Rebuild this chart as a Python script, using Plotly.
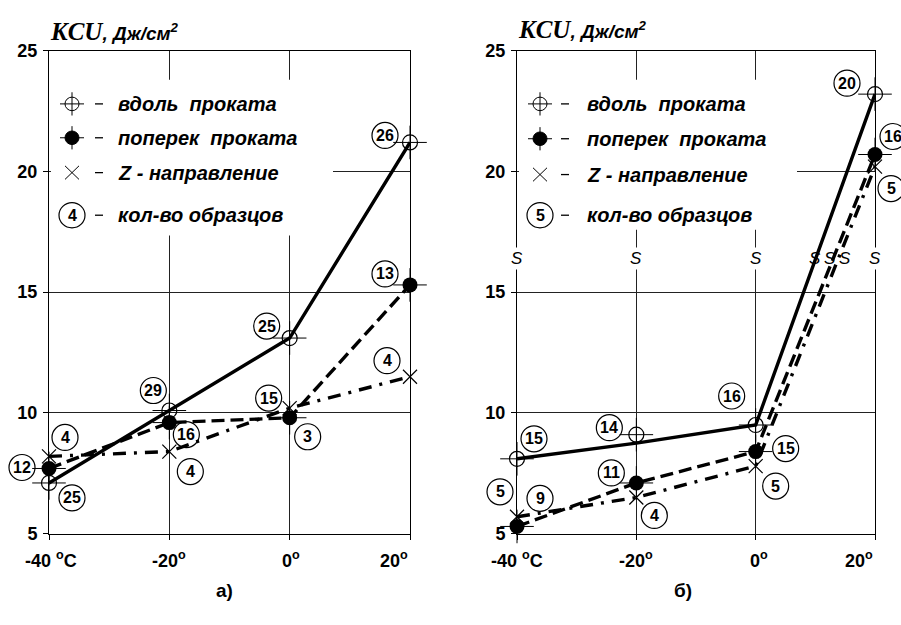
import plotly.graph_objects as go

# ---------------- data ----------------
temps = [-40, -20, 0, 20]
x_tick_text = ["-40 <sup>o</sup>C", "-20<sup>o</sup>", "0<sup>o</sup>", "20<sup>o</sup>"]
y_ticks = [5, 10, 15, 20, 25]

# panel а)
a_along = [7.1, 10.1, 13.1, 21.2]
a_across = [7.7, 9.6, 9.8, 15.3]
a_z = [8.2, 8.4, 10.2, 11.5]
a_along_n = [25, 29, 25, 26]
a_across_n = [12, 16, 3, 13]
a_z_n = [4, 4, 15, 4]

# panel б)
b_along = [8.1, 9.1, 9.5, 23.2]
b_along_trend = [8.1, 8.75, 9.5, 23.2]
b_across = [5.3, 7.1, 8.4, 20.7]
b_z = [5.7, 6.5, 7.8, 20.2]
b_along_n = [15, 14, 16, 20]
b_across_n = [9, 11, 15, 16]
b_z_n = [5, 4, 5, 5]

s_marks_x = [-40, -20, 0, 10, 12.5, 14.9, 20]
s_level = 16.4

legend_labels = ["вдоль\u00a0\u00a0проката", "поперек\u00a0\u00a0проката",
                 "Z\u00a0-\u00a0направление", "кол-во образцов"]

# ---------------- layout helpers ----------------
W, H = 901, 625
X_RANGE = [-40, 20]
Y_RANGE = [5, 25]
SANS = "Liberation Sans, Arial, sans-serif"

PLOT_TOP, PLOT_BOTTOM = 42, 541
PANEL_A = (49, 410)
PANEL_B = (517, 875)


def px(x):
    return x / W


def py(y):
    return 1 - y / H


# label offsets (pixels) for the circled sample counts
a_along_off = [(23, -15), (-16, 20), (-23, 12), (-25, 7)]
a_across_off = [(-27, 1), (17, -12), (18, -19), (-25, 11)]
a_z_off = [(16, 19), (21, -20), (-21, 10), (-23, 16)]
b_along_off = [(17, 20), (-27, 7), (-24, 29), (-28, 11)]
b_across_off = [(23, 28), (-25, 10), (30, 3), (18, 18)]
b_z_off = [(-17, 25), (18, -18), (20, -20), (16, -22)]

fig = go.Figure()
shapes = []
annotations = []

LINE_W = 3.4
DASH = "13px,6px"
DASHDOT = "13px,8px,3px,8px"
R_COUNT = 13


def add_series(xa, ya, xs, ys, line_ys, dash, kind):
    fig.add_trace(go.Scatter(x=xs, y=line_ys, mode="lines", xaxis=xa, yaxis=ya,
                             line=dict(color="black", width=LINE_W, dash=dash),
                             showlegend=False, hoverinfo="skip"))
    if kind == "along":
        fig.add_trace(go.Scatter(x=xs, y=ys, mode="markers", xaxis=xa, yaxis=ya,
                                 marker=dict(symbol="circle-open", size=15, color="black",
                                             line=dict(width=1.2, color="black")),
                                 showlegend=False, cliponaxis=False))
        fig.add_trace(go.Scatter(x=xs, y=ys, mode="markers", xaxis=xa, yaxis=ya,
                                 marker=dict(symbol="cross-thin-open", size=24, color="black",
                                             line=dict(width=1, color="black")),
                                 showlegend=False, cliponaxis=False))
    elif kind == "across":
        fig.add_trace(go.Scatter(x=xs, y=ys, mode="markers", xaxis=xa, yaxis=ya,
                                 marker=dict(symbol="circle", size=15, color="black"),
                                 showlegend=False, cliponaxis=False))
        fig.add_trace(go.Scatter(x=xs, y=ys, mode="markers", xaxis=xa, yaxis=ya,
                                 marker=dict(symbol="cross-thin-open", size=24, color="black",
                                             line=dict(width=1, color="black")),
                                 showlegend=False, cliponaxis=False))
    else:
        fig.add_trace(go.Scatter(x=xs, y=ys, mode="markers", xaxis=xa, yaxis=ya,
                                 marker=dict(symbol="x-thin-open", size=14, color="black",
                                             line=dict(width=1.2, color="black")),
                                 showlegend=False, cliponaxis=False))


def add_counts(xref, yref, xs, ys, counts, offsets):
    for x, y, n, (dx, dy) in zip(xs, ys, counts, offsets):
        fx = (x - X_RANGE[0]) / (X_RANGE[1] - X_RANGE[0])
        fy = (y - Y_RANGE[0]) / (Y_RANGE[1] - Y_RANGE[0])
        shapes.append(dict(type="circle", xref=xref + " domain", yref=yref + " domain",
                           xsizemode="pixel", ysizemode="pixel", xanchor=fx, yanchor=fy,
                           x0=dx - R_COUNT, x1=dx + R_COUNT, y0=dy - R_COUNT, y1=dy + R_COUNT,
                           line=dict(color="black", width=1.2), layer="above"))
        annotations.append(dict(x=x, y=y, xref=xref, yref=yref, xshift=dx, yshift=dy,
                                text="<b>%d</b>" % n, showarrow=False,
                                font=dict(family=SANS, size=16, color="black"),
                                xanchor="center", yanchor="middle"))


# panel а)
add_series("x", "y", temps, a_along, a_along, "solid", "along")
add_series("x", "y", temps, a_across, a_across, DASH, "across")
add_series("x", "y", temps, a_z, a_z, DASHDOT, "z")
add_counts("x", "y", temps, a_along, a_along_n, a_along_off)
add_counts("x", "y", temps, a_across, a_across_n, a_across_off)
add_counts("x", "y", temps, a_z, a_z_n, a_z_off)

# panel б)
add_series("x2", "y2", temps, b_along, b_along_trend, "solid", "along")
add_series("x2", "y2", temps, b_across, b_across, DASH, "across")
add_series("x2", "y2", temps, b_z, b_z, DASHDOT, "z")
add_counts("x2", "y2", temps, b_along, b_along_n, b_along_off)
add_counts("x2", "y2", temps, b_across, b_across_n, b_across_off)
add_counts("x2", "y2", temps, b_z, b_z_n, b_z_off)

# "S" marks on panel б)
for sx in s_marks_x:
    on_grid = sx in temps
    annotations.append(dict(x=sx, y=s_level, xref="x2", yref="y2", text="<i>S</i>",
                            showarrow=False, font=dict(family=SANS, size=17, color="black"),
                            bgcolor="white" if on_grid else "rgba(0,0,0,0)",
                            borderpad=1, xanchor="center", yanchor="middle"))


# legends drawn in page coordinates, on a white panel that hides the grid
def draw_legend(axes, panel, box, mx, dash_x, tx, rows, count_label):
    xr, yr = axes
    left, right = panel
    x0, y0, x1, y1 = box

    def data_x(v):
        return X_RANGE[0] + (v - left) / (right - left) * (X_RANGE[1] - X_RANGE[0])

    def data_y(v):
        return Y_RANGE[0] + (PLOT_BOTTOM - v) / (PLOT_BOTTOM - PLOT_TOP) * (Y_RANGE[1] - Y_RANGE[0])

    shapes.append(dict(type="rect", xref=xr, yref=yr,
                       x0=data_x(x0), x1=data_x(x1), y0=data_y(y1), y1=data_y(y0),
                       fillcolor="white", line=dict(width=0), layer="between"))
    ln = dict(color="black", width=1)
    cy = rows[0]
    shapes.append(dict(type="circle", xref="paper", yref="paper", x0=px(mx - 7), x1=px(mx + 7),
                       y0=py(cy + 7), y1=py(cy - 7), line=ln))
    cy2 = rows[1]
    shapes.append(dict(type="circle", xref="paper", yref="paper", x0=px(mx - 7), x1=px(mx + 7),
                       y0=py(cy2 + 7), y1=py(cy2 - 7), line=ln, fillcolor="black"))
    for c in (cy, cy2):
        shapes.append(dict(type="line", xref="paper", yref="paper", x0=px(mx - 12), x1=px(mx + 12),
                           y0=py(c), y1=py(c), line=ln))
        shapes.append(dict(type="line", xref="paper", yref="paper", x0=px(mx), x1=px(mx),
                           y0=py(c - 12), y1=py(c + 12), line=ln))
    cy3 = rows[2]
    shapes.append(dict(type="line", xref="paper", yref="paper", x0=px(mx - 7), x1=px(mx + 7),
                       y0=py(cy3 - 7), y1=py(cy3 + 7), line=ln))
    shapes.append(dict(type="line", xref="paper", yref="paper", x0=px(mx - 7), x1=px(mx + 7),
                       y0=py(cy3 + 7), y1=py(cy3 - 7), line=ln))
    cy4 = rows[3]
    shapes.append(dict(type="circle", xref="paper", yref="paper",
                       x0=px(mx - R_COUNT), x1=px(mx + R_COUNT),
                       y0=py(cy4 + R_COUNT), y1=py(cy4 - R_COUNT),
                       line=dict(color="black", width=1.2)))
    annotations.append(dict(x=px(mx), y=py(cy4), xref="paper", yref="paper",
                            text="<b>%d</b>" % count_label, showarrow=False,
                            font=dict(family=SANS, size=16, color="black"),
                            xanchor="center", yanchor="middle"))
    for c, label in zip(rows, legend_labels):
        shapes.append(dict(type="line", xref="paper", yref="paper", x0=px(dash_x - 4),
                           x1=px(dash_x + 4), y0=py(c), y1=py(c),
                           line=dict(color="black", width=1.3)))
        annotations.append(dict(x=px(tx), y=py(c), xref="paper", yref="paper",
                                text="<b><i>%s</i></b>" % label, showarrow=False,
                                font=dict(family=SANS, size=20, color="black"),
                                xanchor="left", yanchor="middle"))


draw_legend(("x", "y"), PANEL_A, (51, 72, 333, 233), 72, 99, 116, [97, 132, 168, 212], 4)
draw_legend(("x2", "y2"), PANEL_B, (519, 72, 797, 227), 540, 565, 585, [97, 133, 170, 212], 5)

# axis titles and captions
title = ("<span style='font-family:Liberation Serif;font-size:25px'><b><i>KCU</i></b></span>"
         "<b><i>, Дж/см<sup>2</sup></i></b>")
annotations.append(dict(x=px(48), y=py(22), xref="paper", yref="paper", text=title,
                        showarrow=False, font=dict(family=SANS, size=19, color="black"),
                        xanchor="left", yanchor="middle"))
annotations.append(dict(x=px(516), y=py(20), xref="paper", yref="paper", text=title,
                        showarrow=False, font=dict(family=SANS, size=19, color="black"),
                        xanchor="left", yanchor="middle"))
annotations.append(dict(x=px(214), y=py(613), xref="paper", yref="paper", text="<b>а)</b>",
                        showarrow=False, font=dict(family=SANS, size=19, color="black")))
annotations.append(dict(x=px(694), y=py(613), xref="paper", yref="paper", text="<b>б)</b>",
                        showarrow=False, font=dict(family=SANS, size=19, color="black")))

# x tick labels
for xref, shifts in (("x", [2, 0, 1, 0]), ("x2", [0, 0, 3, 0])):
    for i, (t, txt) in enumerate(zip(temps, x_tick_text)):
        anchor = "right" if t == temps[-1] else "center"
        annotations.append(dict(x=t, y=py(568), xref=xref, yref="paper", text="<b>%s</b>" % txt,
                                xshift=shifts[i], showarrow=False,
                                font=dict(family=SANS, size=18, color="black"),
                                xanchor=anchor, yanchor="middle"))

axis_common = dict(showline=True, mirror=True, linecolor="black", linewidth=1,
                   showgrid=True, gridcolor="#222", gridwidth=1, zeroline=False,
                   ticks="outside", ticklen=5, tickcolor="black", tickwidth=1)
ydom = [py(PLOT_BOTTOM), py(PLOT_TOP)]
fig.update_layout(
    width=W, height=H, margin=dict(l=0, r=0, t=0, b=0),
    paper_bgcolor="white", plot_bgcolor="white", showlegend=False,
    xaxis=dict(domain=[px(PANEL_A[0]), px(PANEL_A[1])], range=X_RANGE, tickvals=temps,
               showticklabels=False, anchor="y", **axis_common),
    yaxis=dict(domain=ydom, range=Y_RANGE, tickvals=y_ticks, anchor="x",
               tickfont=dict(family=SANS, size=18, color="black", weight="bold"),
               ticklabelstandoff=2, **axis_common),
    xaxis2=dict(domain=[px(PANEL_B[0]), px(PANEL_B[1])], range=X_RANGE, tickvals=temps,
                showticklabels=False, anchor="y2", **axis_common),
    yaxis2=dict(domain=ydom, range=Y_RANGE, tickvals=y_ticks, anchor="x2",
                tickfont=dict(family=SANS, size=18, color="black", weight="bold"),
                ticklabelstandoff=2, **axis_common),
    shapes=shapes, annotations=annotations,
)

fig.write_html("out.html")
